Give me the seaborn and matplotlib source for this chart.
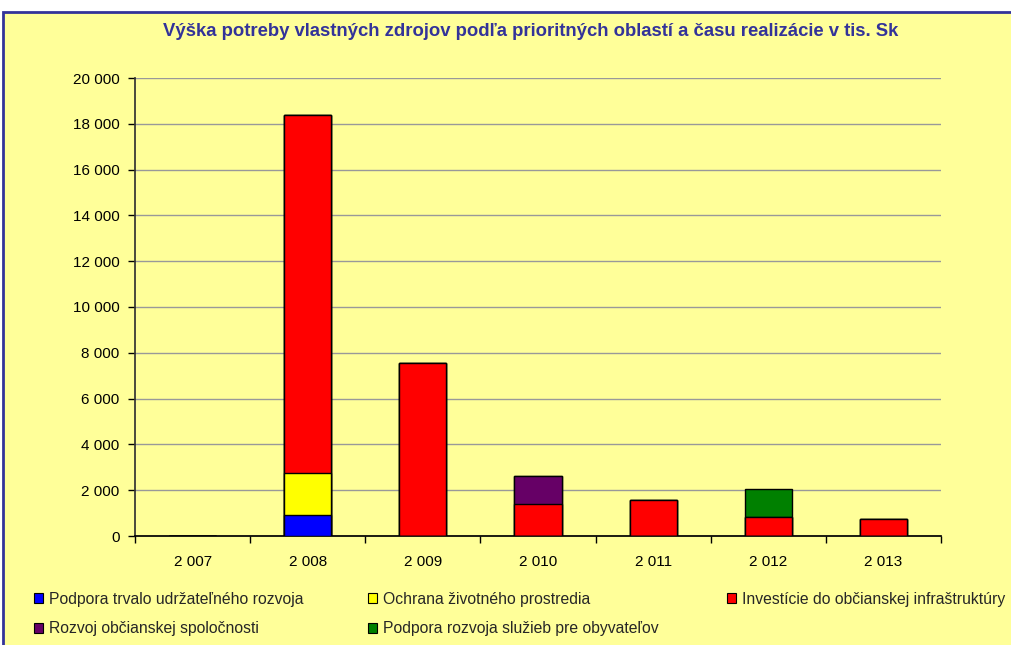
import matplotlib
matplotlib.use("Agg")
import matplotlib.pyplot as plt
import seaborn as sns
import numpy as np
from matplotlib.patches import Rectangle, Patch
from matplotlib.ticker import FuncFormatter, MultipleLocator

years = ["2 007", "2 008", "2 009", "2 010", "2 011", "2 012", "2 013"]
series_names = [
    "Podpora trvalo udržateľného rozvoja",
    "Ochrana životného prostredia",
    "Investície do občianskej infraštruktúry",
    "Rozvoj občianskej spoločnosti",
    "Podpora rozvoja služieb pre obyvateľov",
]
podpora_trvalo = [0, 920, 0, 0, 0, 0, 0]
ochrana = [0, 1830, 0, 0, 0, 0, 0]
investicie = [0, 15630, 7550, 1400, 1560, 820, 740]
rozvoj = [0, 0, 0, 1230, 0, 0, 0]
sluzby = [0, 0, 0, 0, 0, 1240, 0]
colors = ["#0000FF", "#FFFF00", "#FF0000", "#660066", "#008000"]
title = "Výška potreby vlastných zdrojov podľa prioritných oblastí a času realizácie v tis. Sk"

sns.set_theme(style="white")
plt.rcParams["font.family"] = ["Liberation Sans", "DejaVu Sans"]

bg = "#FFFF99"
fig = plt.figure(figsize=(10.11, 6.45), dpi=100)
fig.patch.set_facecolor("white")
# chart area frame
fig.patches.append(Rectangle((3 / 1011, -0.05), 1.1, (645 - 12) / 645 + 0.05,
                             transform=fig.transFigure, facecolor=bg,
                             edgecolor="#333399", linewidth=2, zorder=-5))

ax = fig.add_axes([135 / 1011, (645 - 536) / 645, (941 - 135) / 1011, (536 - 78) / 645])
ax.set_facecolor(bg)

data = [podpora_trvalo, ochrana, investicie, rozvoj, sluzby]
cum = np.cumsum(np.array(data, dtype=float), axis=0)
for k in range(len(data) - 1, -1, -1):
    sns.barplot(x=years, y=cum[k], color=colors[k], edgecolor="black",
                linewidth=1, width=0.41, saturation=1, ax=ax, zorder=3)

ax.set_ylim(0, 20000)
ax.set_xlim(-0.5, 6.5)
ax.yaxis.set_major_locator(MultipleLocator(2000))
ax.yaxis.set_major_formatter(FuncFormatter(lambda v, p: f"{int(v):,}".replace(",", " ")))
ax.grid(axis="y", color="#999999", linewidth=1, zorder=0)
ax.set_axisbelow(True)
ax.set_xlabel("")
ax.set_ylabel("")
for s in ["top", "right"]:
    ax.spines[s].set_visible(False)
ax.spines["left"].set_color("#333333")
ax.spines["bottom"].set_color("black")
ax.tick_params(axis="y", which="major", left=True, length=5, width=1, color="black",
               labelsize=11, pad=6, labelcolor="black")
ax.set_xticks(range(7))
ax.set_xticklabels(years)
ax.set_xticks(np.arange(-0.5, 7, 1), minor=True)
ax.tick_params(axis="x", which="major", bottom=False, labelsize=11, pad=8, labelcolor="black")
ax.tick_params(axis="x", which="minor", bottom=True, length=5, width=1, color="black")

fig.text(531 / 1011, (645 - 32) / 645, title, ha="center", va="center", fontsize=13.3,
         fontweight="bold", color="#333399")

# legend, laid out in three columns
cols = [([0, 3], 34), ([1, 4], 368), ([2], 727)]
for idxs, xpix in cols:
    handles = [Patch(facecolor=colors[i], edgecolor="black", linewidth=0.8) for i in idxs]
    labels = [series_names[i] for i in idxs]
    leg = fig.legend(handles, labels, loc="upper left",
                     bbox_to_anchor=(xpix / 1011, (645 - 592) / 645),
                     frameon=False, fontsize=11.3, handlelength=0.6, handleheight=0.6,
                     handletextpad=0.35, labelspacing=0.9, borderpad=0, borderaxespad=0)

fig.savefig("out.png", dpi=100, facecolor=fig.get_facecolor())
